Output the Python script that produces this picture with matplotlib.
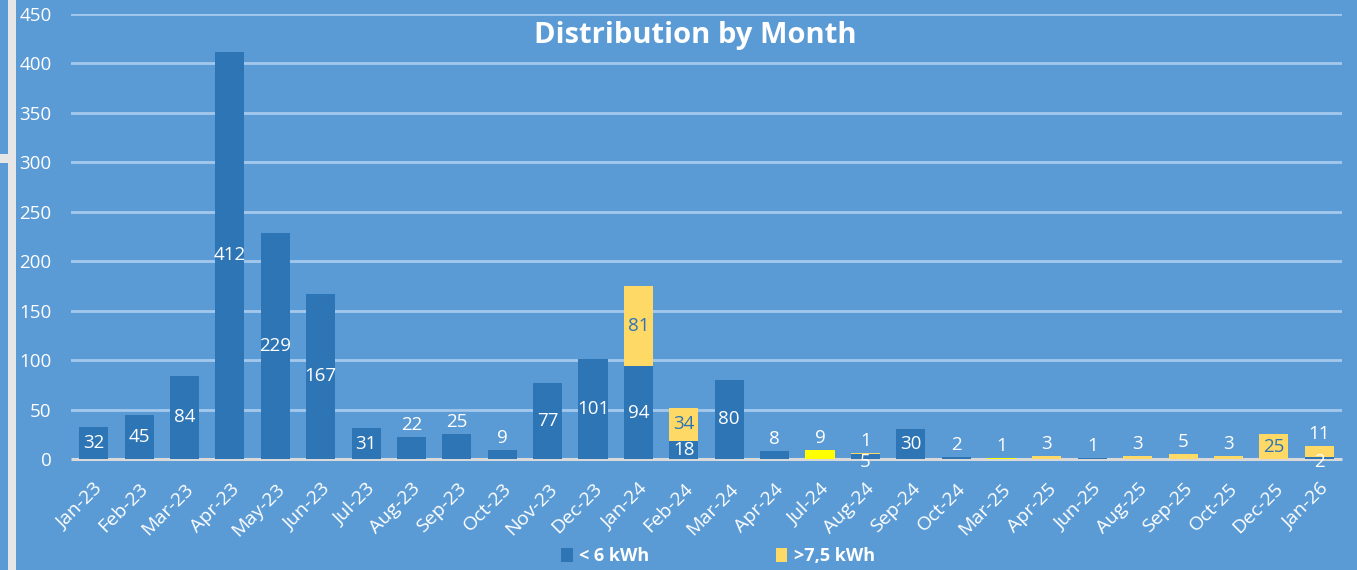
import matplotlib
matplotlib.use("Agg")
import matplotlib.pyplot as plt
from matplotlib.patches import Rectangle, Patch
import numpy as np

months = ["Jan-23", "Feb-23", "Mar-23", "Apr-23", "May-23", "Jun-23", "Jul-23",
          "Aug-23", "Sep-23", "Oct-23", "Nov-23", "Dec-23", "Jan-24", "Feb-24",
          "Mar-24", "Apr-24", "Jul-24", "Aug-24", "Sep-24", "Oct-24", "Mar-25",
          "Apr-25", "Jun-25", "Aug-25", "Sep-25", "Oct-25", "Dec-25", "Jan-26"]
below_6 = [32, 45, 84, 412, 229, 167, 31, 22, 25, 9, 77, 101, 94, 18,
           80, 8, 0, 5, 30, 2, 0, 0, 1, 0, 0, 0, 0, 2]
mid_range = [0, 0, 0, 0, 0, 0, 0, 0, 0, 0, 0, 0, 0, 0,
             0, 0, 9, 0, 0, 0, 1, 0, 0, 0, 0, 0, 0, 0]
above_7_5 = [0, 0, 0, 0, 0, 0, 0, 0, 0, 0, 0, 0, 81, 34,
             0, 0, 0, 1, 0, 0, 0, 3, 0, 3, 5, 3, 25, 11]
y_ticks = [0, 50, 100, 150, 200, 250, 300, 350, 400, 450]

BG = "#5B9BD5"
BLUE = "#2E75B6"
YELLOW = "#FFD966"
BRIGHT = "#FFFF00"
WHITE = "white"
FONT = "Open Sans"

plt.rcParams['font.family'] = [FONT, 'DejaVu Sans']

W, H = 1357, 570
fig = plt.figure(figsize=(W / 100, H / 100), dpi=100)
fig.patch.set_facecolor(BG)

ax_l, ax_r = 71 / W, 1342 / W
ax_b, ax_t = (H - 459) / H, (H - 14) / H
ax = fig.add_axes([ax_l, ax_b, ax_r - ax_l, ax_t - ax_b])
ax.set_facecolor(BG)

x = np.arange(len(months))
bw = 0.64
series = [(below_6, BLUE), (mid_range, BRIGHT), (above_7_5, YELLOW)]
bottoms = np.zeros(len(months))
segs = [[] for _ in months]
for vals, col in series:
    v = np.array(vals, dtype=float)
    ax.bar(x, v, bw, bottom=bottoms, color=col, zorder=3, linewidth=0)
    for i in range(len(months)):
        if v[i] > 0:
            segs[i].append((bottoms[i], v[i], col))
    bottoms = bottoms + v

LFS = 13.5
for i, sl in enumerate(segs):
    n = len(sl)
    for k, (b, v, col) in enumerate(sl):
        txtcol = WHITE if col == BLUE else BLUE
        lab = f"{int(v)}"
        if n == 1:
            center = v >= 30 or (col != BLUE and v >= 20)
            pos = "c" if center else "a"
        else:
            if v >= 15:
                pos = "c"
            elif k == n - 1:
                pos = "a"
            else:
                pos = "b"
        if pos == "c":
            ax.text(i, b + v / 2, lab, ha="center", va="center", color=txtcol,
                    fontsize=LFS, zorder=5)
        elif pos == "a":
            ax.annotate(lab, (i, b + v), xytext=(0, 9), textcoords="offset points",
                        ha="center", va="center", color=WHITE, fontsize=LFS, zorder=5)
        else:
            ax.annotate(lab, (i, 0), xytext=(0, -2), textcoords="offset points",
                        ha="center", va="center", color=WHITE, fontsize=LFS, zorder=5,
                        annotation_clip=False)

ax.set_xlim(-0.5, len(months) - 0.5)
ax.set_ylim(0, 450)
ax.set_yticks(y_ticks)
ax.set_yticklabels([str(t) for t in y_ticks], color=WHITE, fontsize=13.5)
ax.yaxis.grid(True, color="#A4C8EC", linewidth=2, zorder=0)
ax.set_axisbelow(True)
# baseline drawn just beneath the bars so thin bars stay visible
ax.plot([0, 1], [0, 0], transform=ax.transAxes, color="#D9D9D9",
        linewidth=2.2, zorder=2.5, clip_on=False, solid_capstyle="butt")
ax.set_xticks(x)
ax.set_xticklabels(months, rotation=45, ha="right", rotation_mode="anchor",
                   color=WHITE, fontsize=14)
ax.tick_params(axis="both", length=0)
ax.tick_params(axis="y", pad=14)
ax.tick_params(axis="x", pad=15)
for s in ax.spines.values():
    s.set_visible(False)
for gl in ax.get_ygridlines()[:1]:
    gl.set_visible(False)

fig.text(695 / W, (H - 35) / H, "Distribution by Month", ha="center", va="center",
         color=WHITE, fontsize=21, fontweight="bold")

handles = [Patch(facecolor=BLUE, edgecolor="none"), Patch(facecolor=YELLOW, edgecolor="none")]
leg = fig.legend(handles, ["< 6 kWh", ">7,5 kWh"], loc="center", bbox_to_anchor=(718 / W, (H - 556) / H),
                 ncol=2, frameon=False, handlelength=0.65, handleheight=0.8, handletextpad=0.35,
                 columnspacing=7.0, prop={"family": FONT, "weight": "bold", "size": 13})
for t in leg.get_texts():
    t.set_color(WHITE)

# left frame artefacts
fig.patches.append(Rectangle((8 / W, 0), 8 / W, 1, transform=fig.transFigure,
                             facecolor="#E6E6E6", edgecolor="none", zorder=10))
fig.patches.append(Rectangle((0, (H - 163) / H), 9 / W, 9 / H, transform=fig.transFigure,
                             facecolor="#E6E6E6", edgecolor="none", zorder=10))

fig.savefig("out.png", dpi=100, facecolor=BG)
